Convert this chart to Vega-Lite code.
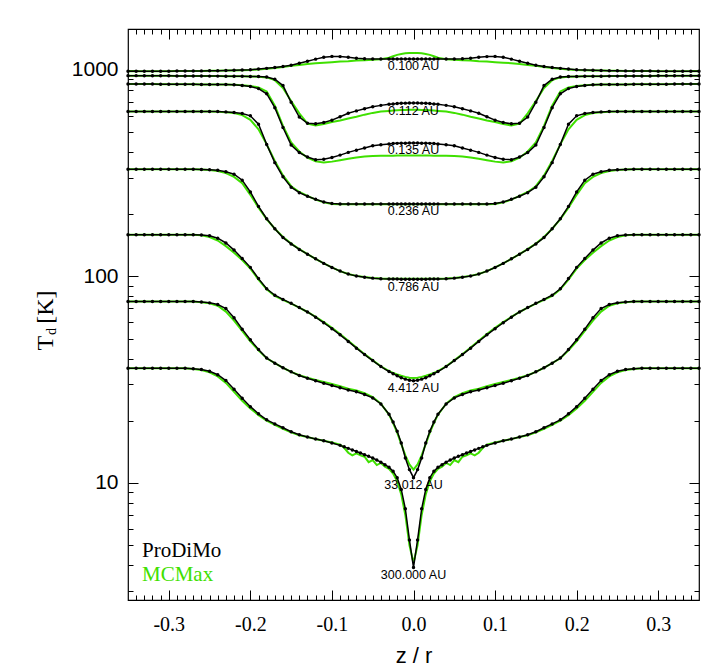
{
"$schema":"https://vega.github.io/schema/vega-lite/v6.json",
"width":571,"height":571,
"autosize":{"type":"none"},
"padding":{"left":128,"top":29,"right":10,"bottom":69},
"background":"white",
"config":{"view":{"stroke":"black","strokeWidth":1.2},"axis":{"grid":false,"domain":false,"tickColor":"black","tickWidth":1,"labelColor":"black","titleColor":"black","labelOverlap":false,"labelFlush":false}},
"datasets":{
"N":[{"c":"A","name":"0.100 AU"},{"c":"B","name":"0.112 AU"},{"c":"C","name":"0.135 AU"},{"c":"D","name":"0.236 AU"},{"c":"E","name":"0.786 AU"},{"c":"F","name":"4.412 AU"},{"c":"G","name":"33.012 AU"},{"c":"H","name":"300.000 AU"}],
"T":[
{"c":"A","z":-0.35,"p":982,"m":982},{"c":"A","z":-0.34,"p":982,"m":982},{"c":"A","z":-0.33,"p":983,"m":983},{"c":"A","z":-0.32,"p":983,"m":983},{"c":"A","z":-0.31,"p":984,"m":984},{"c":"A","z":-0.3,"p":984,"m":984},{"c":"A","z":-0.29,"p":985,"m":985},{"c":"A","z":-0.28,"p":985,"m":985},{"c":"A","z":-0.27,"p":986,"m":986},{"c":"A","z":-0.26,"p":987,"m":987},{"c":"A","z":-0.25,"p":988,"m":988},{"c":"A","z":-0.24,"p":989,"m":989},{"c":"A","z":-0.23,"p":991,"m":990},{"c":"A","z":-0.22,"p":993,"m":992},{"c":"A","z":-0.21,"p":996,"m":994},{"c":"A","z":-0.2,"p":1000,"m":997},{"c":"A","z":-0.19,"p":1007,"m":1003},{"c":"A","z":-0.18,"p":1015,"m":1010},{"c":"A","z":-0.17,"p":1025,"m":1018},{"c":"A","z":-0.16,"p":1036,"m":1030},{"c":"A","z":-0.15,"p":1052,"m":1044},{"c":"A","z":-0.14,"p":1075,"m":1055},{"c":"A","z":-0.13,"p":1100,"m":1066},{"c":"A","z":-0.12,"p":1125,"m":1075},{"c":"A","z":-0.11,"p":1150,"m":1082},{"c":"A","z":-0.1,"p":1160,"m":1088},{"c":"A","z":-0.09,"p":1157,"m":1095},{"c":"A","z":-0.08,"p":1148,"m":1100},{"c":"A","z":-0.07,"p":1135,"m":1108},{"c":"A","z":-0.06,"p":1130,"m":1112},{"c":"A","z":-0.05,"p":1128,"m":1118},{"c":"A","z":-0.04,"p":1128,"m":1125},{"c":"A","z":-0.03,"p":1127,"m":1142},{"c":"A","z":-0.025,"p":1127,"m":1162},{"c":"A","z":-0.02,"p":1127,"m":1180},{"c":"A","z":-0.015,"p":1127,"m":1192},{"c":"A","z":-0.01,"p":1127,"m":1200},{"c":"A","z":-0.005,"p":1127,"m":1204},{"c":"A","z":0,"p":1127,"m":1205},
{"c":"A","z":0.35,"p":982,"m":982},{"c":"A","z":0.34,"p":982,"m":982},{"c":"A","z":0.33,"p":983,"m":983},{"c":"A","z":0.32,"p":983,"m":983},{"c":"A","z":0.31,"p":984,"m":984},{"c":"A","z":0.3,"p":984,"m":984},{"c":"A","z":0.29,"p":985,"m":985},{"c":"A","z":0.28,"p":985,"m":985},{"c":"A","z":0.27,"p":986,"m":986},{"c":"A","z":0.26,"p":987,"m":987},{"c":"A","z":0.25,"p":988,"m":988},{"c":"A","z":0.24,"p":989,"m":989},{"c":"A","z":0.23,"p":991,"m":990},{"c":"A","z":0.22,"p":993,"m":992},{"c":"A","z":0.21,"p":996,"m":994},{"c":"A","z":0.2,"p":1000,"m":997},{"c":"A","z":0.19,"p":1007,"m":1003},{"c":"A","z":0.18,"p":1015,"m":1010},{"c":"A","z":0.17,"p":1025,"m":1018},{"c":"A","z":0.16,"p":1036,"m":1030},{"c":"A","z":0.15,"p":1052,"m":1044},{"c":"A","z":0.14,"p":1075,"m":1055},{"c":"A","z":0.13,"p":1100,"m":1066},{"c":"A","z":0.12,"p":1125,"m":1075},{"c":"A","z":0.11,"p":1150,"m":1082},{"c":"A","z":0.1,"p":1160,"m":1088},{"c":"A","z":0.09,"p":1157,"m":1095},{"c":"A","z":0.08,"p":1148,"m":1100},{"c":"A","z":0.07,"p":1135,"m":1108},{"c":"A","z":0.06,"p":1130,"m":1112},{"c":"A","z":0.05,"p":1128,"m":1118},{"c":"A","z":0.04,"p":1128,"m":1125},{"c":"A","z":0.03,"p":1127,"m":1142},{"c":"A","z":0.025,"p":1127,"m":1162},{"c":"A","z":0.02,"p":1127,"m":1180},{"c":"A","z":0.015,"p":1127,"m":1192},{"c":"A","z":0.01,"p":1127,"m":1200},{"c":"A","z":0.005,"p":1127,"m":1204},
{"c":"B","z":-0.35,"p":936,"m":936},{"c":"B","z":-0.34,"p":936,"m":936},{"c":"B","z":-0.33,"p":935,"m":935},{"c":"B","z":-0.32,"p":935,"m":935},{"c":"B","z":-0.31,"p":934,"m":934},{"c":"B","z":-0.3,"p":934,"m":934},{"c":"B","z":-0.29,"p":933,"m":933},{"c":"B","z":-0.28,"p":933,"m":933},{"c":"B","z":-0.27,"p":932,"m":932},{"c":"B","z":-0.26,"p":932,"m":932},{"c":"B","z":-0.25,"p":931,"m":931},{"c":"B","z":-0.24,"p":931,"m":931},{"c":"B","z":-0.23,"p":930,"m":930},{"c":"B","z":-0.22,"p":930,"m":930},{"c":"B","z":-0.21,"p":929,"m":929},{"c":"B","z":-0.2,"p":928,"m":928},{"c":"B","z":-0.19,"p":926,"m":925},{"c":"B","z":-0.18,"p":921,"m":918},{"c":"B","z":-0.17,"p":900,"m":890},{"c":"B","z":-0.16,"p":838,"m":815},{"c":"B","z":-0.15,"p":695,"m":705},{"c":"B","z":-0.14,"p":590,"m":615},{"c":"B","z":-0.13,"p":550,"m":548},{"c":"B","z":-0.12,"p":547,"m":537},{"c":"B","z":-0.11,"p":555,"m":546},{"c":"B","z":-0.1,"p":570,"m":558},{"c":"B","z":-0.09,"p":592,"m":568},{"c":"B","z":-0.08,"p":615,"m":580},{"c":"B","z":-0.07,"p":632,"m":592},{"c":"B","z":-0.06,"p":647,"m":606},{"c":"B","z":-0.05,"p":662,"m":618},{"c":"B","z":-0.04,"p":672,"m":627},{"c":"B","z":-0.03,"p":680,"m":632},{"c":"B","z":-0.025,"p":683,"m":634},{"c":"B","z":-0.02,"p":686,"m":636},{"c":"B","z":-0.015,"p":688,"m":638},{"c":"B","z":-0.01,"p":689,"m":639},{"c":"B","z":-0.005,"p":690,"m":640},{"c":"B","z":0,"p":690,"m":640},
{"c":"B","z":0.35,"p":936,"m":936},{"c":"B","z":0.34,"p":936,"m":936},{"c":"B","z":0.33,"p":935,"m":935},{"c":"B","z":0.32,"p":935,"m":935},{"c":"B","z":0.31,"p":934,"m":934},{"c":"B","z":0.3,"p":934,"m":934},{"c":"B","z":0.29,"p":933,"m":933},{"c":"B","z":0.28,"p":933,"m":933},{"c":"B","z":0.27,"p":932,"m":932},{"c":"B","z":0.26,"p":932,"m":932},{"c":"B","z":0.25,"p":931,"m":931},{"c":"B","z":0.24,"p":931,"m":931},{"c":"B","z":0.23,"p":930,"m":930},{"c":"B","z":0.22,"p":930,"m":930},{"c":"B","z":0.21,"p":929,"m":929},{"c":"B","z":0.2,"p":928,"m":928},{"c":"B","z":0.19,"p":926,"m":925},{"c":"B","z":0.18,"p":921,"m":918},{"c":"B","z":0.17,"p":900,"m":890},{"c":"B","z":0.16,"p":838,"m":815},{"c":"B","z":0.15,"p":695,"m":705},{"c":"B","z":0.14,"p":590,"m":615},{"c":"B","z":0.13,"p":550,"m":548},{"c":"B","z":0.12,"p":547,"m":537},{"c":"B","z":0.11,"p":555,"m":546},{"c":"B","z":0.1,"p":570,"m":558},{"c":"B","z":0.09,"p":592,"m":568},{"c":"B","z":0.08,"p":615,"m":580},{"c":"B","z":0.07,"p":632,"m":592},{"c":"B","z":0.06,"p":647,"m":606},{"c":"B","z":0.05,"p":662,"m":618},{"c":"B","z":0.04,"p":672,"m":627},{"c":"B","z":0.03,"p":680,"m":632},{"c":"B","z":0.025,"p":683,"m":634},{"c":"B","z":0.02,"p":686,"m":636},{"c":"B","z":0.015,"p":688,"m":638},{"c":"B","z":0.01,"p":689,"m":639},{"c":"B","z":0.005,"p":690,"m":640},
{"c":"C","z":-0.35,"p":852,"m":852},{"c":"C","z":-0.34,"p":852,"m":852},{"c":"C","z":-0.33,"p":852,"m":852},{"c":"C","z":-0.32,"p":852,"m":852},{"c":"C","z":-0.31,"p":851,"m":851},{"c":"C","z":-0.3,"p":851,"m":851},{"c":"C","z":-0.29,"p":851,"m":851},{"c":"C","z":-0.28,"p":850,"m":850},{"c":"C","z":-0.27,"p":850,"m":850},{"c":"C","z":-0.26,"p":849,"m":849},{"c":"C","z":-0.25,"p":849,"m":849},{"c":"C","z":-0.24,"p":848,"m":848},{"c":"C","z":-0.23,"p":847,"m":847},{"c":"C","z":-0.22,"p":845,"m":845},{"c":"C","z":-0.21,"p":839,"m":840},{"c":"C","z":-0.2,"p":830,"m":835},{"c":"C","z":-0.19,"p":810,"m":820},{"c":"C","z":-0.18,"p":765,"m":785},{"c":"C","z":-0.17,"p":655,"m":670},{"c":"C","z":-0.16,"p":525,"m":535},{"c":"C","z":-0.15,"p":432,"m":445},{"c":"C","z":-0.14,"p":397,"m":402},{"c":"C","z":-0.13,"p":378,"m":375},{"c":"C","z":-0.12,"p":367,"m":360},{"c":"C","z":-0.11,"p":369,"m":356},{"c":"C","z":-0.1,"p":376,"m":359},{"c":"C","z":-0.09,"p":386,"m":365},{"c":"C","z":-0.08,"p":398,"m":371},{"c":"C","z":-0.07,"p":408,"m":376},{"c":"C","z":-0.06,"p":418,"m":380},{"c":"C","z":-0.05,"p":428,"m":382},{"c":"C","z":-0.04,"p":433,"m":383},{"c":"C","z":-0.03,"p":437,"m":383},{"c":"C","z":-0.025,"p":439,"m":383},{"c":"C","z":-0.02,"p":440,"m":384},{"c":"C","z":-0.015,"p":441,"m":384},{"c":"C","z":-0.01,"p":441,"m":384},{"c":"C","z":-0.005,"p":442,"m":384},{"c":"C","z":0,"p":442,"m":384},
{"c":"C","z":0.35,"p":852,"m":852},{"c":"C","z":0.34,"p":852,"m":852},{"c":"C","z":0.33,"p":852,"m":852},{"c":"C","z":0.32,"p":852,"m":852},{"c":"C","z":0.31,"p":851,"m":851},{"c":"C","z":0.3,"p":851,"m":851},{"c":"C","z":0.29,"p":851,"m":851},{"c":"C","z":0.28,"p":850,"m":850},{"c":"C","z":0.27,"p":850,"m":850},{"c":"C","z":0.26,"p":849,"m":849},{"c":"C","z":0.25,"p":849,"m":849},{"c":"C","z":0.24,"p":848,"m":848},{"c":"C","z":0.23,"p":847,"m":847},{"c":"C","z":0.22,"p":845,"m":845},{"c":"C","z":0.21,"p":839,"m":840},{"c":"C","z":0.2,"p":830,"m":835},{"c":"C","z":0.19,"p":810,"m":820},{"c":"C","z":0.18,"p":765,"m":785},{"c":"C","z":0.17,"p":655,"m":670},{"c":"C","z":0.16,"p":525,"m":535},{"c":"C","z":0.15,"p":432,"m":445},{"c":"C","z":0.14,"p":397,"m":402},{"c":"C","z":0.13,"p":378,"m":375},{"c":"C","z":0.12,"p":367,"m":360},{"c":"C","z":0.11,"p":369,"m":356},{"c":"C","z":0.1,"p":376,"m":359},{"c":"C","z":0.09,"p":386,"m":365},{"c":"C","z":0.08,"p":398,"m":371},{"c":"C","z":0.07,"p":408,"m":376},{"c":"C","z":0.06,"p":418,"m":380},{"c":"C","z":0.05,"p":428,"m":382},{"c":"C","z":0.04,"p":433,"m":383},{"c":"C","z":0.03,"p":437,"m":383},{"c":"C","z":0.025,"p":439,"m":383},{"c":"C","z":0.02,"p":440,"m":384},{"c":"C","z":0.015,"p":441,"m":384},{"c":"C","z":0.01,"p":441,"m":384},{"c":"C","z":0.005,"p":442,"m":384},
{"c":"D","z":-0.35,"p":628,"m":628},{"c":"D","z":-0.34,"p":628,"m":628},{"c":"D","z":-0.33,"p":628,"m":628},{"c":"D","z":-0.32,"p":628,"m":628},{"c":"D","z":-0.31,"p":628,"m":628},{"c":"D","z":-0.3,"p":628,"m":628},{"c":"D","z":-0.29,"p":628,"m":628},{"c":"D","z":-0.28,"p":628,"m":628},{"c":"D","z":-0.27,"p":628,"m":628},{"c":"D","z":-0.26,"p":628,"m":628},{"c":"D","z":-0.25,"p":628,"m":628},{"c":"D","z":-0.24,"p":627,"m":626},{"c":"D","z":-0.23,"p":625,"m":623},{"c":"D","z":-0.22,"p":621,"m":617},{"c":"D","z":-0.21,"p":614,"m":603},{"c":"D","z":-0.2,"p":598,"m":572},{"c":"D","z":-0.19,"p":545,"m":515},{"c":"D","z":-0.18,"p":435,"m":435},{"c":"D","z":-0.17,"p":355,"m":362},{"c":"D","z":-0.16,"p":303,"m":308},{"c":"D","z":-0.15,"p":270,"m":273},{"c":"D","z":-0.14,"p":254,"m":256},{"c":"D","z":-0.13,"p":244,"m":245},{"c":"D","z":-0.12,"p":236,"m":235},{"c":"D","z":-0.11,"p":229,"m":228},{"c":"D","z":-0.1,"p":225,"m":224},{"c":"D","z":-0.09,"p":224,"m":223},{"c":"D","z":-0.08,"p":224,"m":223},{"c":"D","z":-0.07,"p":224,"m":223},{"c":"D","z":-0.06,"p":224,"m":223},{"c":"D","z":-0.05,"p":224,"m":223},{"c":"D","z":-0.04,"p":224,"m":223},{"c":"D","z":-0.03,"p":224,"m":223},{"c":"D","z":-0.025,"p":224,"m":223},{"c":"D","z":-0.02,"p":224,"m":223},{"c":"D","z":-0.015,"p":224,"m":223},{"c":"D","z":-0.01,"p":224,"m":223},{"c":"D","z":-0.005,"p":224,"m":223},{"c":"D","z":0,"p":224,"m":223},
{"c":"D","z":0.35,"p":628,"m":628},{"c":"D","z":0.34,"p":628,"m":628},{"c":"D","z":0.33,"p":628,"m":628},{"c":"D","z":0.32,"p":628,"m":628},{"c":"D","z":0.31,"p":628,"m":628},{"c":"D","z":0.3,"p":628,"m":628},{"c":"D","z":0.29,"p":628,"m":628},{"c":"D","z":0.28,"p":628,"m":628},{"c":"D","z":0.27,"p":628,"m":628},{"c":"D","z":0.26,"p":628,"m":628},{"c":"D","z":0.25,"p":628,"m":628},{"c":"D","z":0.24,"p":627,"m":626},{"c":"D","z":0.23,"p":625,"m":623},{"c":"D","z":0.22,"p":621,"m":617},{"c":"D","z":0.21,"p":614,"m":603},{"c":"D","z":0.2,"p":598,"m":572},{"c":"D","z":0.19,"p":545,"m":515},{"c":"D","z":0.18,"p":435,"m":435},{"c":"D","z":0.17,"p":355,"m":362},{"c":"D","z":0.16,"p":303,"m":308},{"c":"D","z":0.15,"p":270,"m":273},{"c":"D","z":0.14,"p":254,"m":256},{"c":"D","z":0.13,"p":244,"m":245},{"c":"D","z":0.12,"p":236,"m":235},{"c":"D","z":0.11,"p":229,"m":228},{"c":"D","z":0.1,"p":225,"m":224},{"c":"D","z":0.09,"p":224,"m":223},{"c":"D","z":0.08,"p":224,"m":223},{"c":"D","z":0.07,"p":224,"m":223},{"c":"D","z":0.06,"p":224,"m":223},{"c":"D","z":0.05,"p":224,"m":223},{"c":"D","z":0.04,"p":224,"m":223},{"c":"D","z":0.03,"p":224,"m":223},{"c":"D","z":0.025,"p":224,"m":223},{"c":"D","z":0.02,"p":224,"m":223},{"c":"D","z":0.015,"p":224,"m":223},{"c":"D","z":0.01,"p":224,"m":223},{"c":"D","z":0.005,"p":224,"m":223},
{"c":"E","z":-0.35,"p":330,"m":330},{"c":"E","z":-0.34,"p":330,"m":330},{"c":"E","z":-0.33,"p":330,"m":330},{"c":"E","z":-0.32,"p":330,"m":330},{"c":"E","z":-0.31,"p":330,"m":330},{"c":"E","z":-0.3,"p":330,"m":330},{"c":"E","z":-0.29,"p":330,"m":330},{"c":"E","z":-0.28,"p":330,"m":330},{"c":"E","z":-0.27,"p":330,"m":330},{"c":"E","z":-0.26,"p":329,"m":329},{"c":"E","z":-0.25,"p":328,"m":327},{"c":"E","z":-0.24,"p":326,"m":323},{"c":"E","z":-0.23,"p":321,"m":316},{"c":"E","z":-0.22,"p":312,"m":303},{"c":"E","z":-0.21,"p":292,"m":282},{"c":"E","z":-0.2,"p":256,"m":248},{"c":"E","z":-0.19,"p":218,"m":215},{"c":"E","z":-0.18,"p":190,"m":189},{"c":"E","z":-0.17,"p":170,"m":170},{"c":"E","z":-0.16,"p":154,"m":155},{"c":"E","z":-0.15,"p":143.5,"m":144},{"c":"E","z":-0.14,"p":135,"m":135.5},{"c":"E","z":-0.13,"p":128,"m":128},{"c":"E","z":-0.12,"p":121.5,"m":121.5},{"c":"E","z":-0.11,"p":115.5,"m":115.5},{"c":"E","z":-0.1,"p":110.3,"m":110.5},{"c":"E","z":-0.09,"p":106,"m":106},{"c":"E","z":-0.08,"p":102.5,"m":102.6},{"c":"E","z":-0.07,"p":100.3,"m":100.5},{"c":"E","z":-0.06,"p":99,"m":99.2},{"c":"E","z":-0.05,"p":98,"m":98.2},{"c":"E","z":-0.04,"p":97.4,"m":97.6},{"c":"E","z":-0.03,"p":97.1,"m":97.3},{"c":"E","z":-0.025,"p":97,"m":97.3},{"c":"E","z":-0.02,"p":97,"m":97.2},{"c":"E","z":-0.015,"p":96.9,"m":97.2},{"c":"E","z":-0.01,"p":96.9,"m":97.2},{"c":"E","z":-0.005,"p":96.9,"m":97.2},{"c":"E","z":0,"p":96.9,"m":97.2},
{"c":"E","z":0.35,"p":330,"m":330},{"c":"E","z":0.34,"p":330,"m":330},{"c":"E","z":0.33,"p":330,"m":330},{"c":"E","z":0.32,"p":330,"m":330},{"c":"E","z":0.31,"p":330,"m":330},{"c":"E","z":0.3,"p":330,"m":330},{"c":"E","z":0.29,"p":330,"m":330},{"c":"E","z":0.28,"p":330,"m":330},{"c":"E","z":0.27,"p":330,"m":330},{"c":"E","z":0.26,"p":329,"m":329},{"c":"E","z":0.25,"p":328,"m":327},{"c":"E","z":0.24,"p":326,"m":323},{"c":"E","z":0.23,"p":321,"m":316},{"c":"E","z":0.22,"p":312,"m":303},{"c":"E","z":0.21,"p":292,"m":282},{"c":"E","z":0.2,"p":256,"m":248},{"c":"E","z":0.19,"p":218,"m":215},{"c":"E","z":0.18,"p":190,"m":189},{"c":"E","z":0.17,"p":170,"m":170},{"c":"E","z":0.16,"p":154,"m":155},{"c":"E","z":0.15,"p":143.5,"m":144},{"c":"E","z":0.14,"p":135,"m":135.5},{"c":"E","z":0.13,"p":128,"m":128},{"c":"E","z":0.12,"p":121.5,"m":121.5},{"c":"E","z":0.11,"p":115.5,"m":115.5},{"c":"E","z":0.1,"p":110.3,"m":110.5},{"c":"E","z":0.09,"p":106,"m":106},{"c":"E","z":0.08,"p":102.5,"m":102.6},{"c":"E","z":0.07,"p":100.3,"m":100.5},{"c":"E","z":0.06,"p":99,"m":99.2},{"c":"E","z":0.05,"p":98,"m":98.2},{"c":"E","z":0.04,"p":97.4,"m":97.6},{"c":"E","z":0.03,"p":97.1,"m":97.3},{"c":"E","z":0.025,"p":97,"m":97.3},{"c":"E","z":0.02,"p":97,"m":97.2},{"c":"E","z":0.015,"p":96.9,"m":97.2},{"c":"E","z":0.01,"p":96.9,"m":97.2},{"c":"E","z":0.005,"p":96.9,"m":97.2},
{"c":"F","z":-0.35,"p":159,"m":159},{"c":"F","z":-0.34,"p":159,"m":159},{"c":"F","z":-0.33,"p":159,"m":159},{"c":"F","z":-0.32,"p":159,"m":159},{"c":"F","z":-0.31,"p":159,"m":159},{"c":"F","z":-0.3,"p":159,"m":159},{"c":"F","z":-0.29,"p":159,"m":159},{"c":"F","z":-0.28,"p":159,"m":159},{"c":"F","z":-0.27,"p":159,"m":159},{"c":"F","z":-0.26,"p":158.5,"m":158},{"c":"F","z":-0.25,"p":157,"m":155},{"c":"F","z":-0.24,"p":153,"m":149},{"c":"F","z":-0.23,"p":145,"m":140},{"c":"F","z":-0.22,"p":134,"m":130},{"c":"F","z":-0.21,"p":122,"m":120},{"c":"F","z":-0.2,"p":110.5,"m":109},{"c":"F","z":-0.19,"p":97.5,"m":96.5},{"c":"F","z":-0.18,"p":87,"m":86.5},{"c":"F","z":-0.17,"p":81,"m":80.5},{"c":"F","z":-0.16,"p":77.3,"m":77},{"c":"F","z":-0.15,"p":74,"m":73.8},{"c":"F","z":-0.14,"p":70.6,"m":70.5},{"c":"F","z":-0.13,"p":67.2,"m":67.2},{"c":"F","z":-0.12,"p":63.4,"m":63.6},{"c":"F","z":-0.11,"p":59.6,"m":60},{"c":"F","z":-0.1,"p":55.8,"m":56.3},{"c":"F","z":-0.09,"p":52.1,"m":52.6},{"c":"F","z":-0.08,"p":48.4,"m":48.8},{"c":"F","z":-0.07,"p":44.9,"m":45.2},{"c":"F","z":-0.06,"p":41.8,"m":42},{"c":"F","z":-0.05,"p":39.1,"m":39.2},{"c":"F","z":-0.04,"p":36.6,"m":36.7},{"c":"F","z":-0.03,"p":34.6,"m":34.8},{"c":"F","z":-0.025,"p":33.8,"m":34.1},{"c":"F","z":-0.02,"p":33,"m":33.5},{"c":"F","z":-0.015,"p":32.3,"m":33},{"c":"F","z":-0.01,"p":31.8,"m":32.6},{"c":"F","z":-0.005,"p":31.4,"m":32.3},{"c":"F","z":0,"p":31.2,"m":32.2},
{"c":"F","z":0.35,"p":159,"m":159},{"c":"F","z":0.34,"p":159,"m":159},{"c":"F","z":0.33,"p":159,"m":159},{"c":"F","z":0.32,"p":159,"m":159},{"c":"F","z":0.31,"p":159,"m":159},{"c":"F","z":0.3,"p":159,"m":159},{"c":"F","z":0.29,"p":159,"m":159},{"c":"F","z":0.28,"p":159,"m":159},{"c":"F","z":0.27,"p":159,"m":159},{"c":"F","z":0.26,"p":158.5,"m":158},{"c":"F","z":0.25,"p":157,"m":155},{"c":"F","z":0.24,"p":153,"m":149},{"c":"F","z":0.23,"p":145,"m":140},{"c":"F","z":0.22,"p":134,"m":130},{"c":"F","z":0.21,"p":122,"m":120},{"c":"F","z":0.2,"p":110.5,"m":109},{"c":"F","z":0.19,"p":97.5,"m":96.5},{"c":"F","z":0.18,"p":87,"m":86.5},{"c":"F","z":0.17,"p":81,"m":80.5},{"c":"F","z":0.16,"p":77.3,"m":77},{"c":"F","z":0.15,"p":74,"m":73.8},{"c":"F","z":0.14,"p":70.6,"m":70.5},{"c":"F","z":0.13,"p":67.2,"m":67.2},{"c":"F","z":0.12,"p":63.4,"m":63.6},{"c":"F","z":0.11,"p":59.6,"m":60},{"c":"F","z":0.1,"p":55.8,"m":56.3},{"c":"F","z":0.09,"p":52.1,"m":52.6},{"c":"F","z":0.08,"p":48.4,"m":48.8},{"c":"F","z":0.07,"p":44.9,"m":45.2},{"c":"F","z":0.06,"p":41.8,"m":42},{"c":"F","z":0.05,"p":39.1,"m":39.2},{"c":"F","z":0.04,"p":36.6,"m":36.7},{"c":"F","z":0.03,"p":34.6,"m":34.8},{"c":"F","z":0.025,"p":33.8,"m":34.1},{"c":"F","z":0.02,"p":33,"m":33.5},{"c":"F","z":0.015,"p":32.3,"m":33},{"c":"F","z":0.01,"p":31.8,"m":32.6},{"c":"F","z":0.005,"p":31.4,"m":32.3},
{"c":"G","z":-0.35,"p":75.5,"m":75.5},{"c":"G","z":-0.34,"p":75.5,"m":75.5},{"c":"G","z":-0.33,"p":75.5,"m":75.5},{"c":"G","z":-0.32,"p":75.5,"m":75.5},{"c":"G","z":-0.31,"p":75.5,"m":75.5},{"c":"G","z":-0.3,"p":75.5,"m":75.5},{"c":"G","z":-0.29,"p":75.5,"m":75.5},{"c":"G","z":-0.28,"p":75.5,"m":75.5},{"c":"G","z":-0.27,"p":75.5,"m":75.5},{"c":"G","z":-0.26,"p":75.1,"m":75},{"c":"G","z":-0.25,"p":74.4,"m":74},{"c":"G","z":-0.24,"p":73,"m":72},{"c":"G","z":-0.23,"p":69.8,"m":67.5},{"c":"G","z":-0.22,"p":63,"m":61},{"c":"G","z":-0.21,"p":55.5,"m":54.5},{"c":"G","z":-0.2,"p":49.3,"m":48.5},{"c":"G","z":-0.19,"p":44.2,"m":43.8},{"c":"G","z":-0.18,"p":40.2,"m":40.1},{"c":"G","z":-0.17,"p":38,"m":38},{"c":"G","z":-0.16,"p":36.1,"m":36.1},{"c":"G","z":-0.15,"p":34.5,"m":34.5},{"c":"G","z":-0.14,"p":33.1,"m":33.2},{"c":"G","z":-0.13,"p":32.1,"m":32.3},{"c":"G","z":-0.12,"p":31.2,"m":31.5},{"c":"G","z":-0.11,"p":30.4,"m":30.8},{"c":"G","z":-0.1,"p":29.6,"m":30.1},{"c":"G","z":-0.09,"p":28.9,"m":29.4},{"c":"G","z":-0.08,"p":28.2,"m":28.6},{"c":"G","z":-0.07,"p":27.6,"m":28},{"c":"G","z":-0.06,"p":26.8,"m":27.2},{"c":"G","z":-0.05,"p":25.8,"m":26},{"c":"G","z":-0.04,"p":24.1,"m":24.2},{"c":"G","z":-0.03,"p":21.5,"m":21.4},{"c":"G","z":-0.025,"p":19.7,"m":19.5},{"c":"G","z":-0.02,"p":17.8,"m":17.5},{"c":"G","z":-0.015,"p":15.6,"m":15.4},{"c":"G","z":-0.01,"p":13.2,"m":13.6},{"c":"G","z":-0.005,"p":11.6,"m":12.3},{"c":"G","z":0,"p":10.6,"m":11.6},
{"c":"G","z":0.35,"p":75.5,"m":75.5},{"c":"G","z":0.34,"p":75.5,"m":75.5},{"c":"G","z":0.33,"p":75.5,"m":75.5},{"c":"G","z":0.32,"p":75.5,"m":75.5},{"c":"G","z":0.31,"p":75.5,"m":75.5},{"c":"G","z":0.3,"p":75.5,"m":75.5},{"c":"G","z":0.29,"p":75.5,"m":75.5},{"c":"G","z":0.28,"p":75.5,"m":75.5},{"c":"G","z":0.27,"p":75.5,"m":75.5},{"c":"G","z":0.26,"p":75.1,"m":75},{"c":"G","z":0.25,"p":74.4,"m":74},{"c":"G","z":0.24,"p":73,"m":72},{"c":"G","z":0.23,"p":69.8,"m":67.5},{"c":"G","z":0.22,"p":63,"m":61},{"c":"G","z":0.21,"p":55.5,"m":54.5},{"c":"G","z":0.2,"p":49.3,"m":48.5},{"c":"G","z":0.19,"p":44.2,"m":43.8},{"c":"G","z":0.18,"p":40.2,"m":40.1},{"c":"G","z":0.17,"p":38,"m":38},{"c":"G","z":0.16,"p":36.1,"m":36.1},{"c":"G","z":0.15,"p":34.5,"m":34.5},{"c":"G","z":0.14,"p":33.1,"m":33.2},{"c":"G","z":0.13,"p":32.1,"m":32.3},{"c":"G","z":0.12,"p":31.2,"m":31.5},{"c":"G","z":0.11,"p":30.4,"m":30.8},{"c":"G","z":0.1,"p":29.6,"m":30.1},{"c":"G","z":0.09,"p":28.9,"m":29.4},{"c":"G","z":0.08,"p":28.2,"m":28.6},{"c":"G","z":0.07,"p":27.6,"m":28},{"c":"G","z":0.06,"p":26.8,"m":27.2},{"c":"G","z":0.05,"p":25.8,"m":26},{"c":"G","z":0.04,"p":24.1,"m":24.2},{"c":"G","z":0.03,"p":21.5,"m":21.4},{"c":"G","z":0.025,"p":19.7,"m":19.5},{"c":"G","z":0.02,"p":17.8,"m":17.5},{"c":"G","z":0.015,"p":15.6,"m":15.4},{"c":"G","z":0.01,"p":13.2,"m":13.6},{"c":"G","z":0.005,"p":11.6,"m":12.3},
{"c":"H","z":-0.35,"p":35.9,"m":35.9},{"c":"H","z":-0.34,"p":35.9,"m":35.9},{"c":"H","z":-0.33,"p":35.9,"m":35.9},{"c":"H","z":-0.32,"p":35.9,"m":35.9},{"c":"H","z":-0.31,"p":35.9,"m":35.9},{"c":"H","z":-0.3,"p":35.9,"m":35.9},{"c":"H","z":-0.29,"p":35.9,"m":35.9},{"c":"H","z":-0.28,"p":35.9,"m":35.9},{"c":"H","z":-0.27,"p":35.7,"m":35.6},{"c":"H","z":-0.26,"p":35.4,"m":35.2},{"c":"H","z":-0.25,"p":34.7,"m":34.3},{"c":"H","z":-0.24,"p":33.4,"m":32.8},{"c":"H","z":-0.23,"p":31.3,"m":30.5},{"c":"H","z":-0.22,"p":28.4,"m":27.6},{"c":"H","z":-0.21,"p":25.7,"m":25},{"c":"H","z":-0.2,"p":23.4,"m":22.9},{"c":"H","z":-0.19,"p":21.6,"m":21.3},{"c":"H","z":-0.18,"p":20.2,"m":20},{"c":"H","z":-0.17,"p":19.3,"m":19.1},{"c":"H","z":-0.16,"p":18.5,"m":18.3},{"c":"H","z":-0.15,"p":17.7,"m":17.6},{"c":"H","z":-0.14,"p":17.1,"m":17},{"c":"H","z":-0.13,"p":16.7,"m":16.7},{"c":"H","z":-0.12,"p":16.3,"m":16.3},{"c":"H","z":-0.11,"p":16,"m":16},{"c":"H","z":-0.1,"p":15.6,"m":15.7},{"c":"H","z":-0.09,"p":15.2,"m":15.3},{"c":"H","z":-0.085,"p":14.95,"m":14.8},{"c":"H","z":-0.08,"p":14.7,"m":14},{"c":"H","z":-0.075,"p":14.45,"m":13.6},{"c":"H","z":-0.07,"p":14.2,"m":13.9},{"c":"H","z":-0.065,"p":13.95,"m":13.6},{"c":"H","z":-0.06,"p":13.7,"m":13.4},{"c":"H","z":-0.055,"p":13.45,"m":12.6},{"c":"H","z":-0.05,"p":13.2,"m":12.9},{"c":"H","z":-0.045,"p":12.9,"m":12.2},{"c":"H","z":-0.04,"p":12.6,"m":12.5},{"c":"H","z":-0.035,"p":12.25,"m":12},{"c":"H","z":-0.03,"p":11.9,"m":11.7},{"c":"H","z":-0.025,"p":11.4,"m":11.1},{"c":"H","z":-0.02,"p":10.6,"m":10.2},{"c":"H","z":-0.015,"p":9.3,"m":8.8},{"c":"H","z":-0.01,"p":7.5,"m":7},{"c":"H","z":-0.005,"p":5.3,"m":5},{"c":"H","z":0,"p":3.9,"m":4.1},
{"c":"H","z":0.35,"p":35.9,"m":35.9},{"c":"H","z":0.34,"p":35.9,"m":35.9},{"c":"H","z":0.33,"p":35.9,"m":35.9},{"c":"H","z":0.32,"p":35.9,"m":35.9},{"c":"H","z":0.31,"p":35.9,"m":35.9},{"c":"H","z":0.3,"p":35.9,"m":35.9},{"c":"H","z":0.29,"p":35.9,"m":35.9},{"c":"H","z":0.28,"p":35.9,"m":35.9},{"c":"H","z":0.27,"p":35.7,"m":35.6},{"c":"H","z":0.26,"p":35.4,"m":35.2},{"c":"H","z":0.25,"p":34.7,"m":34.3},{"c":"H","z":0.24,"p":33.4,"m":32.8},{"c":"H","z":0.23,"p":31.3,"m":30.5},{"c":"H","z":0.22,"p":28.4,"m":27.6},{"c":"H","z":0.21,"p":25.7,"m":25},{"c":"H","z":0.2,"p":23.4,"m":22.9},{"c":"H","z":0.19,"p":21.6,"m":21.3},{"c":"H","z":0.18,"p":20.2,"m":20},{"c":"H","z":0.17,"p":19.3,"m":19.1},{"c":"H","z":0.16,"p":18.5,"m":18.3},{"c":"H","z":0.15,"p":17.7,"m":17.6},{"c":"H","z":0.14,"p":17.1,"m":17},{"c":"H","z":0.13,"p":16.7,"m":16.7},{"c":"H","z":0.12,"p":16.3,"m":16.3},{"c":"H","z":0.11,"p":16,"m":16},{"c":"H","z":0.1,"p":15.6,"m":15.7},{"c":"H","z":0.09,"p":15.2,"m":15.3},{"c":"H","z":0.085,"p":14.95,"m":14.8},{"c":"H","z":0.08,"p":14.7,"m":14},{"c":"H","z":0.075,"p":14.45,"m":13.6},{"c":"H","z":0.07,"p":14.2,"m":13.9},{"c":"H","z":0.065,"p":13.95,"m":13.6},{"c":"H","z":0.06,"p":13.7,"m":13.4},{"c":"H","z":0.055,"p":13.45,"m":12.6},{"c":"H","z":0.05,"p":13.2,"m":12.9},{"c":"H","z":0.045,"p":12.9,"m":12.2},{"c":"H","z":0.04,"p":12.6,"m":12.5},{"c":"H","z":0.035,"p":12.25,"m":12},{"c":"H","z":0.03,"p":11.9,"m":11.7},{"c":"H","z":0.025,"p":11.4,"m":11.1},{"c":"H","z":0.02,"p":10.6,"m":10.2},{"c":"H","z":0.015,"p":9.3,"m":8.8},{"c":"H","z":0.01,"p":7.5,"m":7},{"c":"H","z":0.005,"p":5.3,"m":5}
]},
"data":{"name":"T"},
"resolve":{"scale":{"x":"shared","y":"shared"},"axis":{"x":"independent","y":"independent"}},
"layer":[
{"mark":{"type":"line","strokeWidth":2},
 "encoding":{
  "x":{"field":"z","type":"quantitative","scale":{"domain":[-0.35,0.35],"nice":false,"zero":false},
   "axis":{"orient":"bottom","ticks":false,"values":[-0.3,-0.2,-0.1,0,0.1,0.2,0.3],"labelExpr":"replace(format(datum.value,'.1f'),'\u2212','-')","labelFont":"Liberation Serif","labelFontSize":20,"labelPadding":14,"title":"z / r","titleFont":"Liberation Sans","titleFontSize":22,"titleFontWeight":"normal","titlePadding":11}},
  "y":{"field":"m","type":"quantitative","scale":{"type":"log","domain":[2.713,1574],"nice":false},
   "axis":{"orient":"left","ticks":false,"values":[10,100,1000],"format":".0f","labelFont":"Liberation Sans","labelFontSize":21,"labelPadding":10,"title":"T\u00a0\u00a0[K]","titleFont":"Liberation Serif","titleFontSize":24,"titleFontWeight":"normal","titleAngle":-90,"titleAlign":"left","titleBaseline":"alphabetic","titleX":-76,"titleY":321}},
  "detail":{"field":"c"},
  "stroke":{"datum":"MCMax","type":"nominal","scale":{"range":["#3fe000"]},
   "legend":{"orient":"none","legendX":-7,"legendY":535,"title":null,"padding":0,"labelFont":"Liberation Serif","labelFontSize":21,"labelColor":"#3fe000","symbolOpacity":0,"symbolSize":0,"symbolStrokeWidth":0,"labelOffset":0}}
 }},
{"mark":{"type":"line","strokeWidth":1.5},
 "encoding":{
  "x":{"field":"z","type":"quantitative","scale":{"domain":[-0.35,0.35],"nice":false,"zero":false},
   "axis":{"orient":"bottom","labels":false,"tickSize":-10,"values":[-0.3,-0.2,-0.1,0,0.1,0.2,0.3],"title":null}},
  "y":{"field":"p","type":"quantitative","scale":{"type":"log","domain":[2.713,1574],"nice":false},
   "axis":{"orient":"left","labels":false,"tickSize":-10,"values":[10,100,1000],"title":null}},
  "detail":{"field":"c"},
  "color":{"datum":"ProDiMo","type":"nominal","scale":{"range":["black"]},
   "legend":{"orient":"none","legendX":-7,"legendY":511,"title":null,"padding":0,"labelFont":"Liberation Serif","labelFontSize":21,"labelColor":"black","symbolOpacity":0,"symbolSize":0,"symbolStrokeWidth":0,"labelOffset":0}}
 }},
{"mark":{"type":"point","filled":true,"size":12,"color":"black","opacity":1},
 "encoding":{
  "x":{"field":"z","type":"quantitative","scale":{"domain":[-0.35,0.35],"nice":false,"zero":false},
   "axis":{"orient":"bottom","labels":false,"tickSize":-5,"values":[-0.34,-0.33,-0.32,-0.31,-0.29,-0.28,-0.27,-0.26,-0.25,-0.24,-0.23,-0.22,-0.21,-0.19,-0.18,-0.17,-0.16,-0.15,-0.14,-0.13,-0.12,-0.11,-0.09,-0.08,-0.07,-0.06,-0.05,-0.04,-0.03,-0.02,-0.01,0.01,0.02,0.03,0.04,0.05,0.06,0.07,0.08,0.09,0.11,0.12,0.13,0.14,0.15,0.16,0.17,0.18,0.19,0.21,0.22,0.23,0.24,0.25,0.26,0.27,0.28,0.29,0.31,0.32,0.33,0.34],"title":null}},
  "y":{"field":"p","type":"quantitative","scale":{"type":"log","domain":[2.713,1574],"nice":false},
   "axis":{"orient":"left","labels":false,"tickSize":-5,"values":[3,4,5,6,7,8,9,20,30,40,50,60,70,80,90,200,300,400,500,600,700,800,900],"title":"d","titleFont":"Liberation Serif","titleFontSize":14,"titleFontWeight":"normal","titleAngle":-90,"titleAlign":"center","titleBaseline":"alphabetic","titleX":-73,"titleY":302}}
 }},
{"transform":[{"filter":"datum.z == 0"},{"lookup":"c","from":{"data":{"name":"N"},"key":"c","fields":["name"]}}],
 "mark":{"type":"text","font":"Liberation Sans","fontSize":12.5,"dy":7.5,"baseline":"middle","align":"center","color":"black"},
 "encoding":{
  "x":{"field":"z","type":"quantitative","scale":{"domain":[-0.35,0.35],"nice":false,"zero":false},
   "axis":{"orient":"top","labels":false,"tickSize":-10,"values":[-0.3,-0.2,-0.1,0,0.1,0.2,0.3],"title":null}},
  "y":{"field":"p","type":"quantitative","scale":{"type":"log","domain":[2.713,1574],"nice":false},
   "axis":{"orient":"right","labels":false,"tickSize":-10,"values":[10,100,1000],"title":null}},
  "text":{"field":"name","type":"nominal"}
 }},
{"transform":[{"filter":"datum.z == 0"}],
 "mark":{"type":"point","opacity":0},
 "encoding":{
  "x":{"field":"z","type":"quantitative","scale":{"domain":[-0.35,0.35],"nice":false,"zero":false},
   "axis":{"orient":"top","labels":false,"tickSize":-5,"values":[-0.34,-0.33,-0.32,-0.31,-0.29,-0.28,-0.27,-0.26,-0.25,-0.24,-0.23,-0.22,-0.21,-0.19,-0.18,-0.17,-0.16,-0.15,-0.14,-0.13,-0.12,-0.11,-0.09,-0.08,-0.07,-0.06,-0.05,-0.04,-0.03,-0.02,-0.01,0.01,0.02,0.03,0.04,0.05,0.06,0.07,0.08,0.09,0.11,0.12,0.13,0.14,0.15,0.16,0.17,0.18,0.19,0.21,0.22,0.23,0.24,0.25,0.26,0.27,0.28,0.29,0.31,0.32,0.33,0.34],"title":null}},
  "y":{"field":"p","type":"quantitative","scale":{"type":"log","domain":[2.713,1574],"nice":false},
   "axis":{"orient":"right","labels":false,"tickSize":-5,"values":[3,4,5,6,7,8,9,20,30,40,50,60,70,80,90,200,300,400,500,600,700,800,900],"title":null}}
 }}
]
}
